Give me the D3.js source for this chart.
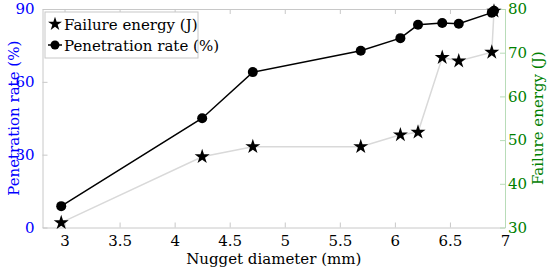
<!DOCTYPE html>
<html>
<head>
<meta charset="utf-8">
<script src="https://cdn.jsdelivr.net/npm/d3@7"></script>
<style>
  body { margin: 0; background: #fff; }
  svg text { font-family: "DejaVu Serif", serif !important; }
</style>
</head>
<body>
<div id="chart"></div>
<script>
// nugget diameter (mm)
const diameter = [2.97, 4.25, 4.71, 5.69, 6.05, 6.21, 6.43, 6.58, 6.88, 6.9];
// penetration rate (%), left axis
const penetration = [8.8, 45, 64, 72.8, 78, 83.5, 84.2, 83.9, 88.5, 89.3];
// failure energy (J), right axis
const energy = [31.1, 46.2, 48.5, 48.5, 51.2, 51.8, 68.9, 68.1, 70.1, 79.5];

const xTicks = [3, 3.5, 4, 4.5, 5, 5.5, 6, 6.5, 7];
const leftTicks = [0, 30, 60, 90];
const rightTicks = [30, 40, 50, 60, 70, 80];

const W = 550, H = 269;
const margin = {top: 9, right: 45, bottom: 41.5, left: 42.5};
const width = W - margin.left - margin.right,
      height = H - margin.top - margin.bottom;

const svg = d3.select("#chart").append("svg")
  .attr("width", W).attr("height", H);
const g = svg.append("g")
  .attr("transform", "translate(" + margin.left + "," + margin.top + ")");

const x = d3.scaleLinear().domain([2.8, 7]).range([0, width]);
const yL = d3.scaleLinear().domain([0, 90]).range([height, 0]);
const yR = d3.scaleLinear().domain([30, 80]).range([height, 0]);

// frame: all four sides with inward ticks
const gridCol = "#c8c8c8";
const xAxisB = g.append("g").attr("transform", "translate(0," + height + ")")
  .call(d3.axisBottom(x).tickValues(xTicks).tickSizeInner(-5).tickSizeOuter(0).tickPadding(8).tickFormat(d3.format("")));
xAxisB.select(".domain").attr("stroke", gridCol);
xAxisB.selectAll("line").attr("stroke", gridCol);
xAxisB.selectAll("text").attr("fill", "#000").style("font-size", "15px");

const xAxisT = g.append("g")
  .call(d3.axisTop(x).tickValues(xTicks).tickSizeInner(-5).tickSizeOuter(0).tickFormat(""));
xAxisT.select(".domain").attr("stroke", gridCol);
xAxisT.selectAll("line").attr("stroke", gridCol);

const yAxisL = g.append("g")
  .call(d3.axisLeft(yL).tickValues(leftTicks).tickSizeInner(-5).tickSizeOuter(0).tickPadding(8));
yAxisL.select(".domain").attr("stroke", gridCol);
yAxisL.selectAll("line").attr("stroke", gridCol);
yAxisL.selectAll("text").attr("fill", "#0000ff").style("font-size", "15px");

const yAxisR = g.append("g").attr("transform", "translate(" + width + ",0)")
  .call(d3.axisRight(yR).tickValues(rightTicks).tickSizeInner(-5).tickSizeOuter(0).tickPadding(3));
yAxisR.select(".domain").attr("stroke", "#b8dcb8");
yAxisR.selectAll("line").attr("stroke", "#b8dcb8");
yAxisR.selectAll("text").attr("fill", "#008000").style("font-size", "15px");

// drop d3's sans-serif default on the axis groups
[xAxisB, xAxisT, yAxisL, yAxisR].forEach(a => a.attr("font-family", null));

// lines
const energyLine = d3.line().x((d, i) => x(diameter[i])).y(d => yR(d));
const penLine = d3.line().x((d, i) => x(diameter[i])).y(d => yL(d));

g.append("path").datum(energy).attr("d", energyLine)
  .attr("fill", "none").attr("stroke", "#d9d9d9").attr("stroke-width", 1.5);
g.selectAll(".star").data(energy).enter().append("path")
  .attr("class", "star")
  .attr("d", d3.symbol().type(d3.symbolStar).size(70))
  .attr("transform", (d, i) => "translate(" + x(diameter[i]) + "," + yR(d) + ")")
  .attr("fill", "#000");

g.append("path").datum(penetration).attr("d", penLine)
  .attr("fill", "none").attr("stroke", "#000").attr("stroke-width", 1.5);
g.selectAll(".dot").data(penetration).enter().append("circle")
  .attr("class", "dot")
  .attr("cx", (d, i) => x(diameter[i]))
  .attr("cy", d => yL(d))
  .attr("r", 5)
  .attr("fill", "#000");

// axis titles
svg.append("text")
  .attr("x", margin.left + width / 2).attr("y", 264)
  .attr("text-anchor", "middle").style("font-size", "15px")
  .text("Nugget diameter (mm)");
svg.append("text")
  .attr("transform", "translate(19," + (margin.top + height / 2) + ")rotate(-90)")
  .attr("text-anchor", "middle").attr("fill", "#0000ff").style("font-size", "15px")
  .text("Penetration rate (%)");
svg.append("text")
  .attr("transform", "translate(543," + (margin.top + height / 2) + ")rotate(-90)")
  .attr("text-anchor", "middle").attr("fill", "#008000").style("font-size", "15px")
  .text("Failure energy (J)");

// legend
const lg = svg.append("g").attr("transform", "translate(45,12)");
lg.append("rect").attr("width", 153).attr("height", 46)
  .attr("fill", "#fff").attr("stroke", "#c8c8c8");
lg.append("path").attr("d", d3.symbol().type(d3.symbolStar).size(60))
  .attr("transform", "translate(10,12)").attr("fill", "#000");
lg.append("text").attr("x", 19).attr("y", 18).style("font-size", "15px")
  .text("Failure energy (J)");
lg.append("line").attr("x1", 3).attr("x2", 17).attr("y1", 33).attr("y2", 33)
  .attr("stroke", "#000").attr("stroke-width", 1.5);
lg.append("circle").attr("cx", 10).attr("cy", 33).attr("r", 4.5).attr("fill", "#000");
lg.append("text").attr("x", 19).attr("y", 39).style("font-size", "15px")
  .text("Penetration rate (%)");
</script>
</body>
</html>
